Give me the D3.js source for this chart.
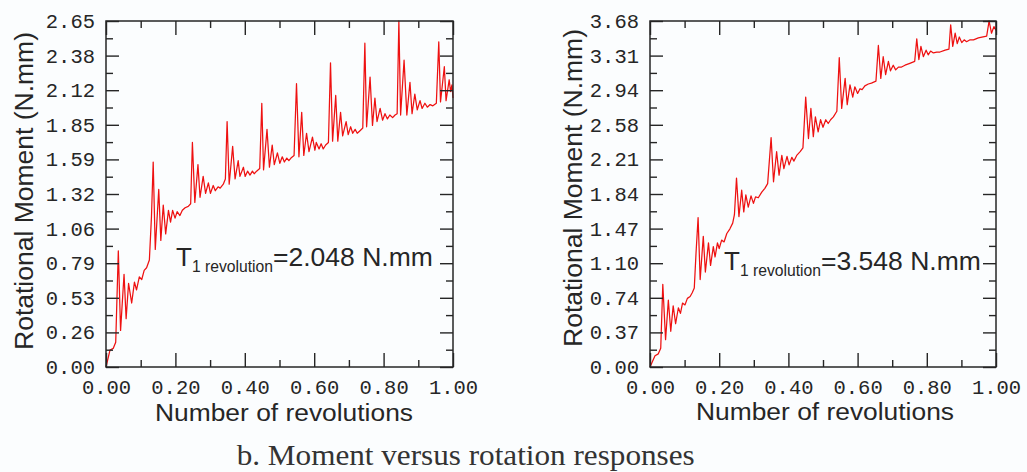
<!DOCTYPE html>
<html>
<head>
<meta charset="utf-8">
<script src="https://cdn.jsdelivr.net/npm/d3@7"></script>
<style>
  html, body { margin: 0; padding: 0; background: #fbfdfe; }
  svg { display: block; }
</style>
</head>
<body>
<svg id="chart" width="1027" height="472"></svg>
<script>
// ---------- DATA ----------
const xTickValues = [0, 0.2, 0.4, 0.6, 0.8, 1.0];
const xTickLabels = ["0.00", "0.20", "0.40", "0.60", "0.80", "1.00"];
const xMinorTicks = [0.1, 0.3, 0.5, 0.7, 0.9];

const leftYTickValues = [0, 0.265, 0.53, 0.795, 1.06, 1.325, 1.59, 1.855, 2.12, 2.385, 2.65];
const leftYTickLabels = ["0.00", "0.26", "0.53", "0.79", "1.06", "1.32", "1.59", "1.85", "2.12", "2.38", "2.65"];
const rightYTickValues = [0, 0.368, 0.736, 1.104, 1.472, 1.84, 2.208, 2.576, 2.944, 3.312, 3.68];
const rightYTickLabels = ["0.00", "0.37", "0.74", "1.10", "1.47", "1.84", "2.21", "2.58", "2.94", "3.31", "3.68"];

const annotationValues = ["2.048", "3.548"];

// [revolutions, moment N.mm]
const leftCurve = [
[0,0],[0.0115,0.13],[0.021,0.143],[0.028,0.19],[0.0355,0.89],
[0.042,0.28],[0.052,0.71],[0.058,0.37],[0.065,0.64],[0.074,0.49],[0.082,0.65],[0.088,0.59],[0.096,0.69],[0.103,0.67],[0.110,0.74],[0.117,0.76],[0.125,0.82],[0.131,1.15],[0.136,1.57],
[0.142,0.90],[0.152,1.36],[0.158,0.97],[0.165,1.24],[0.172,1.02],[0.180,1.20],[0.186,1.11],[0.192,1.20],[0.199,1.14],[0.205,1.19],[0.213,1.16],[0.220,1.20],[0.228,1.22],[0.237,1.23],[0.244,1.25],[0.249,1.72],
[0.256,1.26],[0.265,1.55],[0.271,1.30],[0.280,1.46],[0.287,1.33],[0.295,1.41],[0.301,1.33],[0.309,1.39],[0.315,1.35],[0.323,1.38],[0.329,1.37],[0.338,1.40],[0.344,1.44],[0.349,1.88],
[0.355,1.40],[0.365,1.69],[0.372,1.44],[0.381,1.58],[0.386,1.46],[0.396,1.53],[0.401,1.46],[0.408,1.50],[0.415,1.47],[0.422,1.50],[0.427,1.48],[0.434,1.50],[0.443,1.52],[0.449,2.02],
[0.454,1.51],[0.464,1.82],[0.471,1.53],[0.479,1.70],[0.485,1.55],[0.494,1.64],[0.501,1.56],[0.508,1.61],[0.514,1.57],[0.521,1.60],[0.527,1.58],[0.533,1.60],[0.542,1.62],[0.549,2.17],
[0.556,1.61],[0.564,1.95],[0.570,1.62],[0.578,1.79],[0.585,1.65],[0.595,1.76],[0.602,1.66],[0.606,1.72],[0.614,1.67],[0.620,1.71],[0.626,1.67],[0.633,1.70],[0.641,1.72],[0.647,2.33],
[0.653,1.73],[0.662,2.08],[0.668,1.73],[0.676,1.95],[0.682,1.77],[0.692,1.88],[0.698,1.78],[0.705,1.84],[0.711,1.79],[0.718,1.82],[0.724,1.79],[0.732,1.81],[0.740,1.83],[0.746,2.48],
[0.751,1.84],[0.761,2.22],[0.768,1.85],[0.775,2.06],[0.781,1.88],[0.790,1.98],[0.797,1.89],[0.804,1.94],[0.811,1.90],[0.818,1.93],[0.826,1.91],[0.833,1.93],[0.839,1.94],[0.844,2.65],
[0.849,1.93],[0.859,2.35],[0.867,1.93],[0.876,2.18],[0.882,1.94],[0.890,2.09],[0.897,1.97],[0.905,2.04],[0.911,1.98],[0.919,2.02],[0.926,1.99],[0.934,2.01],[0.942,2.00],[0.952,2.02],[0.959,2.49],
[0.964,2.03],[0.975,2.30],[0.980,2.04],[0.989,2.20],[0.993,2.11],[0.997,2.16],[1.0,2.06]
];

const rightCurve = [
[0,0],[0.0145,0.12],[0.024,0.14],[0.031,0.20],[0.037,0.88],
[0.045,0.29],[0.053,0.71],[0.060,0.38],[0.067,0.65],[0.074,0.46],[0.082,0.63],[0.088,0.57],[0.094,0.68],[0.101,0.66],[0.108,0.73],[0.116,0.75],[0.122,0.79],[0.128,0.84],[0.133,1.21],[0.139,1.59],
[0.145,0.93],[0.154,1.39],[0.160,1.01],[0.169,1.32],[0.175,1.08],[0.183,1.28],[0.188,1.17],[0.195,1.32],[0.200,1.26],[0.207,1.35],[0.214,1.33],[0.222,1.42],[0.231,1.47],[0.239,1.53],[0.244,1.62],[0.250,2.01],
[0.257,1.60],[0.265,1.88],[0.271,1.65],[0.277,1.83],[0.284,1.70],[0.292,1.82],[0.299,1.74],[0.305,1.81],[0.313,1.80],[0.323,1.86],[0.332,1.90],[0.340,1.95],[0.350,2.44],
[0.357,1.97],[0.366,2.29],[0.373,2.04],[0.381,2.25],[0.387,2.11],[0.396,2.24],[0.402,2.15],[0.410,2.23],[0.416,2.19],[0.424,2.25],[0.434,2.29],[0.442,2.33],[0.450,2.87],
[0.458,2.43],[0.465,2.75],[0.472,2.45],[0.478,2.66],[0.486,2.50],[0.493,2.63],[0.500,2.55],[0.508,2.63],[0.515,2.59],[0.522,2.63],[0.530,2.66],[0.540,2.72],[0.547,3.29],
[0.554,2.75],[0.564,3.07],[0.570,2.79],[0.578,3.00],[0.586,2.87],[0.592,2.98],[0.600,2.91],[0.607,2.96],[0.613,2.95],[0.621,2.99],[0.631,3.01],[0.640,3.02],[0.653,3.04],[0.660,3.42],
[0.667,3.07],[0.674,3.30],[0.681,3.11],[0.689,3.25],[0.695,3.15],[0.703,3.21],[0.710,3.16],[0.718,3.19],[0.727,3.19],[0.737,3.21],[0.751,3.23],[0.765,3.25],[0.771,3.49],
[0.777,3.27],[0.783,3.41],[0.790,3.30],[0.798,3.37],[0.804,3.32],[0.811,3.36],[0.819,3.34],[0.829,3.35],[0.838,3.35],[0.853,3.37],[0.864,3.38],[0.869,3.64],
[0.875,3.41],[0.882,3.55],[0.888,3.44],[0.894,3.51],[0.901,3.45],[0.908,3.48],[0.915,3.46],[0.925,3.48],[0.935,3.48],[0.949,3.50],[0.973,3.52],[0.980,3.68],
[0.987,3.55],[0.994,3.62],[1.0,3.58]
];

// ---------- DRAW ----------
const svg = d3.select("#chart");
const INK = "#262626";
const MONO = "'Liberation Mono', 'DejaVu Sans Mono', monospace";
const SANS = "'Liberation Sans', Arial, sans-serif";

const panels = [
  { curve: leftCurve, yMax: 2.65, yTicks: leftYTickValues, yLabels: leftYTickLabels, ann: annotationValues[0],
    x0: 106, x1: 453, y0: 21, y1: 367, annX: 176, annY: 266, yTitleX: 33, yTitleY: 191, xTitleX: 284, xTitleY: 420.5 },
  { curve: rightCurve, yMax: 3.68, yTicks: rightYTickValues, yLabels: rightYTickLabels, ann: annotationValues[1],
    x0: 650, x1: 996, y0: 21, y1: 367, annX: 724, annY: 269.5, yTitleX: 582, yTitleY: 188, xTitleX: 825, xTitleY: 420 }
];

function minorOf(vals) {
  const out = [];
  for (let i = 0; i < vals.length - 1; i++) out.push((vals[i] + vals[i + 1]) / 2);
  return out;
}

function styleAxis(g) {
  g.select(".domain").remove();
  g.selectAll(".tick line").attr("stroke", INK).attr("stroke-width", 1.4);
  g.selectAll(".tick text").attr("fill", INK).style("font-family", MONO).style("font-size", "20.5px");
}

panels.forEach(p => {
  const x = d3.scaleLinear().domain([0, 1]).range([p.x0, p.x1]);
  const y = d3.scaleLinear().domain([0, p.yMax]).range([p.y1, p.y0]);
  const labelOf = (vals, labels) => (d => labels[vals.indexOf(d)]);
  const yMinor = minorOf(p.yTicks);

  // curve
  svg.append("path")
    .datum(p.curve)
    .attr("fill", "none")
    .attr("stroke", "#ee1111")
    .attr("stroke-width", 1.25)
    .attr("stroke-linejoin", "round")
    .attr("d", d3.line().x(d => x(d[0])).y(d => y(d[1])));

  // left axis (major with labels, minor)
  svg.append("g").attr("transform", `translate(${p.x0},0)`)
    .call(d3.axisLeft(y).tickValues(p.yTicks).tickSizeInner(-13).tickSizeOuter(0).tickPadding(11)
      .tickFormat(labelOf(p.yTicks, p.yLabels)))
    .call(styleAxis);
  svg.append("g").attr("transform", `translate(${p.x0},0)`)
    .call(d3.axisLeft(y).tickValues(yMinor).tickSizeInner(-7).tickSizeOuter(0).tickFormat(""))
    .call(styleAxis);
  // right axis
  svg.append("g").attr("transform", `translate(${p.x1},0)`)
    .call(d3.axisRight(y).tickValues(p.yTicks).tickSizeInner(-13).tickSizeOuter(0).tickFormat(""))
    .call(styleAxis);
  svg.append("g").attr("transform", `translate(${p.x1},0)`)
    .call(d3.axisRight(y).tickValues(yMinor).tickSizeInner(-7).tickSizeOuter(0).tickFormat(""))
    .call(styleAxis);
  // bottom axis
  svg.append("g").attr("transform", `translate(0,${p.y1})`)
    .call(d3.axisBottom(x).tickValues(xTickValues).tickSizeInner(-14).tickSizeOuter(0).tickPadding(12)
      .tickFormat(labelOf(xTickValues, xTickLabels)))
    .call(styleAxis);
  svg.append("g").attr("transform", `translate(0,${p.y1})`)
    .call(d3.axisBottom(x).tickValues(xMinorTicks).tickSizeInner(-7).tickSizeOuter(0).tickFormat(""))
    .call(styleAxis);
  // top axis
  svg.append("g").attr("transform", `translate(0,${p.y0})`)
    .call(d3.axisTop(x).tickValues(xTickValues).tickSizeInner(-14).tickSizeOuter(0).tickFormat(""))
    .call(styleAxis);
  svg.append("g").attr("transform", `translate(0,${p.y0})`)
    .call(d3.axisTop(x).tickValues(xMinorTicks).tickSizeInner(-7).tickSizeOuter(0).tickFormat(""))
    .call(styleAxis);

  // frame
  svg.append("rect")
    .attr("x", p.x0).attr("y", p.y0)
    .attr("width", p.x1 - p.x0).attr("height", p.y1 - p.y0)
    .attr("fill", "none").attr("stroke", INK).attr("stroke-width", 1.5);

  // axis titles
  svg.append("text")
    .attr("x", p.xTitleX).attr("y", p.xTitleY)
    .attr("text-anchor", "middle")
    .attr("textLength", 258).attr("lengthAdjust", "spacingAndGlyphs")
    .style("font-family", SANS).style("font-size", "23.5px").attr("fill", INK)
    .text("Number of revolutions");
  svg.append("text")
    .attr("transform", `translate(${p.yTitleX},${p.yTitleY}) rotate(-90)`)
    .attr("text-anchor", "middle")
    .attr("textLength", 318).attr("lengthAdjust", "spacingAndGlyphs")
    .style("font-family", SANS).style("font-size", "25px").attr("fill", INK)
    .text("Rotational Moment (N.mm)");

  // annotation
  const t = svg.append("text")
    .attr("x", p.annX).attr("y", p.annY)
    .style("font-family", SANS).attr("fill", INK);
  t.append("tspan").style("font-size", "26px").text("T");
  t.append("tspan").style("font-size", "15.7px").attr("dy", 6).text("1 revolution");
  t.append("tspan").style("font-size", "26.5px").attr("dy", -6).text("=" + p.ann + " N.mm");
});

// caption
svg.append("text")
  .attr("x", 236.7).attr("y", 465.3)
  .attr("textLength", 458).attr("lengthAdjust", "spacingAndGlyphs")
  .style("font-family", "'Liberation Serif', 'Times New Roman', serif")
  .style("font-size", "28.5px").attr("fill", "#333")
  .text("b. Moment versus rotation responses");
</script>
</body>
</html>
